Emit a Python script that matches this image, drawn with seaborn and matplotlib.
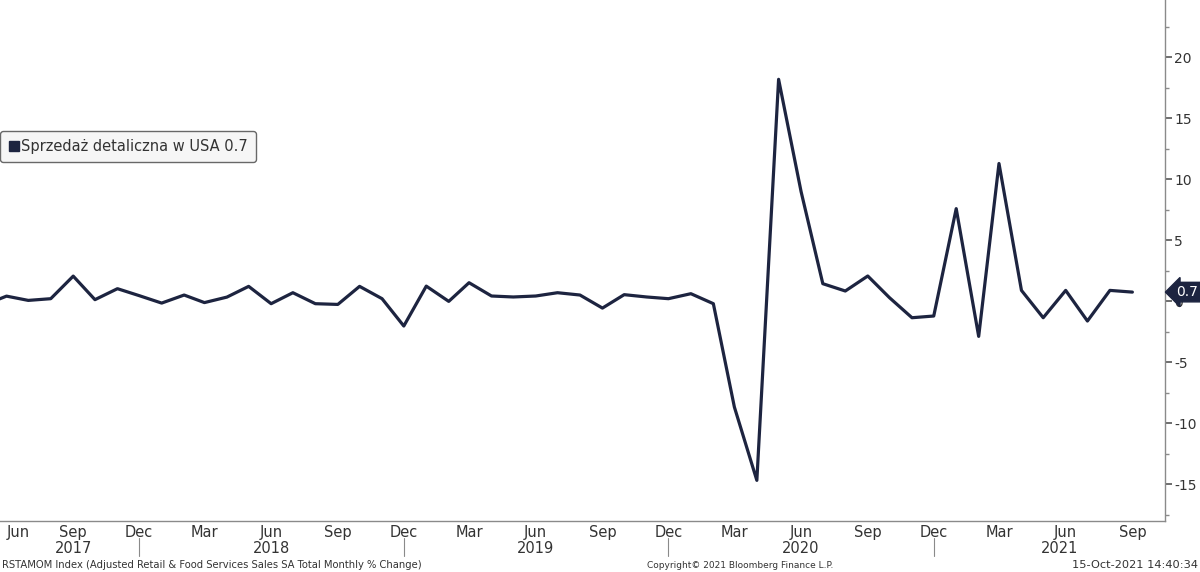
import matplotlib
matplotlib.use("Agg")
import matplotlib.pyplot as plt
import matplotlib.dates as mdates
import matplotlib.transforms as mtransforms
from matplotlib.lines import Line2D
import numpy as np
import pandas as pd
import seaborn as sns

# ── data: US retail sales, monthly % change (RSTAMOM) ─────────────────────────
start_month = "2017-05-01"
mom_2017 = [-0.30, 0.43, 0.08, 0.22, 2.07, 0.14, 1.04, 0.47]          # May-Dec
mom_2018 = [-0.14, 0.52, -0.10, 0.35, 1.23, -0.19, 0.71, -0.19, -0.25, 1.23, 0.22, -2.02]
mom_2019 = [1.25, 0.00, 1.53, 0.44, 0.36, 0.44, 0.71, 0.52, -0.55, 0.55, 0.36, 0.22]
mom_2020 = [0.63, -0.19, -8.66, -14.67, 18.20, 9.00, 1.45, 0.85, 2.08, 0.30, -1.34, -1.20]
mom_2021 = [7.60, -2.87, 11.30, 0.90, -1.34, 0.90, -1.61, 0.90, 0.76]  # Jan-Sep
last_label = "0.7"
series_name = "Sprzedaż detaliczna w USA"
year_labels = ["2017", "2018", "2019", "2020", "2021"]
year_label_dates = ["2017-09-01", "2018-06-01", "2019-06-01", "2020-06-01", "2021-05-24"]
year_sep_dates = ["2017-12-01", "2018-12-01", "2019-12-01", "2020-12-01"]
footer_left = "RSTAMOM Index (Adjusted Retail & Food Services Sales SA Total Monthly % Change)"
footer_mid = "Copyright© 2021 Bloomberg Finance L.P."
footer_right = "15-Oct-2021 14:40:34"

values = mom_2017 + mom_2018 + mom_2019 + mom_2020 + mom_2021
df = pd.DataFrame({
    "date": pd.date_range(start_month, periods=len(values), freq="MS"),
    "mom": values,
})

NAVY = "#1d2440"
GREY = "#8a8a8a"
TXT = "#333333"

sns.set_theme(style="white")
plt.rcParams["font.family"] = ["Liberation Sans Narrow", "DejaVu Sans"]
plt.rcParams["axes.unicode_minus"] = False

fig = plt.figure(figsize=(12, 5.72), dpi=100)
ax = fig.add_axes([0.0, 1 - 521 / 572, 1165 / 1200, 521 / 572])

sns.lineplot(data=df, x="date", y="mom", ax=ax, color=NAVY, lw=2.3, legend=False)

ax.set_xlim(pd.Timestamp("2017-05-23"), pd.Timestamp("2021-10-16"))
ax.set_ylim(-18.0, 24.7)
ax.set_xlabel("")
ax.set_ylabel("")

# spines
for side in ("left", "top"):
    ax.spines[side].set_visible(False)
for side in ("right", "bottom"):
    ax.spines[side].set_color(GREY)
    ax.spines[side].set_linewidth(1.0)

# y axis on the right
ax.yaxis.tick_right()
ax.set_yticks(np.arange(-15, 21, 5))
ax.set_yticks(np.arange(-17.5, 24, 5), minor=True)
ax.tick_params(axis="y", which="major", direction="out", length=5, width=1.2,
               color="#555555", labelsize=10, labelcolor=TXT, pad=1.5)
ax.tick_params(axis="y", which="minor", direction="out", length=3, width=1, color=GREY)

# x axis: month ticks, quarter labels
ax.xaxis.set_major_locator(mdates.MonthLocator(bymonth=[3, 6, 9, 12]))
ax.xaxis.set_major_formatter(mdates.DateFormatter("%b"))
ax.xaxis.set_minor_locator(mdates.MonthLocator())
ax.tick_params(axis="x", which="major", direction="in", length=4, width=1, color=GREY,
               labelsize=10.5, labelcolor=TXT, pad=3)
ax.tick_params(axis="x", which="minor", direction="in", length=3, width=1, color=GREY)

# year labels and separators under the month labels
trans = mtransforms.blended_transform_factory(ax.transData, ax.transAxes)
for lbl, d in zip(year_labels, year_label_dates):
    ax.text(mdates.date2num(pd.Timestamp(d)), -0.053, lbl, transform=trans,
            ha="center", va="center", fontsize=10.5, color=TXT)
for d in year_sep_dates:
    x = mdates.date2num(pd.Timestamp(d))
    ax.plot([x, x], [-0.033, -0.068], transform=trans, color=GREY, lw=0.8, clip_on=False)

# legend box
handle = Line2D([], [], marker="s", ls="none", color=NAVY, markersize=7)
leg = ax.legend([handle], [f"{series_name} {last_label}"], loc="upper left",
                bbox_to_anchor=(0.0, 0.749), frameon=True, fancybox=True,
                fontsize=10.5, handletextpad=0.1, borderpad=0.55,
                handlelength=0.8, borderaxespad=0.0)
leg.get_frame().set_facecolor("#f4f4f4")
leg.get_frame().set_edgecolor("#444444")
leg.get_frame().set_linewidth(1.0)
for t in leg.get_texts():
    t.set_color(TXT)

# last-value tag on the right axis
tag_trans = mtransforms.blended_transform_factory(ax.transAxes, ax.transData)
ax.text(1.0094, df["mom"].iloc[-1], last_label, transform=tag_trans, ha="left", va="center",
        fontsize=10, color="white", clip_on=False, zorder=10,
        bbox=dict(boxstyle="larrow,pad=0.2", fc=NAVY, ec=NAVY))

# footer
fig.text(0.002, 0.012, footer_left, ha="left", va="center", fontsize=7.2, color=TXT)
fig.text(0.617, 0.012, footer_mid, ha="center", va="center", fontsize=6.5, color=TXT)
fig.text(0.998, 0.012, footer_right, ha="right", va="center", fontsize=8.2, color=TXT)

# first month label sits flush with the left edge, as in the terminal export
fig.canvas.draw()
first = ax.get_xticklabels()[0]
first.set_ha("left")

fig.savefig("out.png", dpi=100, facecolor="white")
